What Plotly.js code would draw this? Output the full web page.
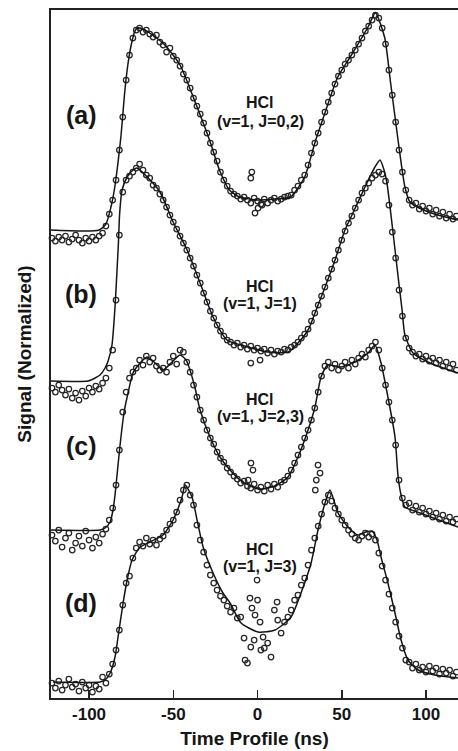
<!DOCTYPE html>
<html><head><meta charset="utf-8">
<script src="https://cdn.plot.ly/plotly-3.0.1.min.js"></script>
<style>html,body{margin:0;padding:0;background:#fff}#chart{width:458px;height:751px}</style>
</head><body><div id="chart"></div>
<script>
// Sampling times (ns) of the measured profiles
const timeNs = [-122,-120,-118,-116,-114,-112,-110,-108,-106,-104,-102,-100,-98,-96,-94,-92,-90,-88,-86,-84,-82,-80,-78,-76,-74,-72,-70,-68,-66,-64,-62,-60,-58,-56,-54,-52,-50,-48,-46,-44,-42,-40,-38,-36,-34,-32,-30,-28,-26,-24,-22,-20,-18,-16,-14,-12,-10,-8,-6,-4,-2,0,2,4,6,8,10,12,14,16,18,20,22,24,26,28,30,32,34,36,38,40,42,44,46,48,50,52,54,56,58,60,62,64,66,68,70,72,74,76,78,80,82,84,86,88,90,92,94,96,98,100,102,104,106,108,110,112,114,116,118];

// Measured signals (vertically offset, arbitrary units)
const signalA = [460,457,461,458,462,456,459,463,458,455,460,457,461,458,462,465,472,484,498,518,548,581,618,643,660,668,670,666,668,664,661,663,656,653,646,650,642,638,632,624,618,610,600,592,584,575,565,555,546,537,526,518,512,507,504,502,499,501,498,495,500,497,494,499,495,498,500,497,499,501,502,503,508,512,518,523,533,545,555,565,576,586,596,605,614,622,628,634,638,643,648,654,660,667,672,678,683,680,670,654,628,603,576,548,526,508,498,493,495,489,492,487,490,484,488,482,486,480,484,479,482];
const signalB = [310,306,313,308,303,309,300,305,298,307,302,310,306,312,309,315,320,330,348,398,463,506,518,522,526,530,534,528,523,520,513,510,504,498,491,483,476,469,462,455,448,440,432,423,415,405,396,387,380,373,367,362,358,356,353,355,351,353,349,352,348,350,347,349,345,348,344,347,346,349,348,351,353,356,360,364,369,377,385,393,402,411,420,429,438,448,458,467,475,482,490,498,505,510,515,520,523,526,524,517,493,466,440,408,382,360,350,346,342,344,339,342,337,340,335,338,332,336,330,334,328];
const signalC = [163,157,168,151,160,165,148,155,162,152,167,158,150,161,155,164,169,178,190,213,248,286,306,320,326,330,338,333,342,336,340,332,328,330,326,336,342,334,348,346,336,326,313,301,288,278,268,260,254,246,240,236,230,226,222,219,215,217,212,210,214,208,211,207,213,209,214,211,216,218,222,228,235,243,251,260,268,278,290,306,322,332,336,330,334,328,332,336,330,338,334,340,344,341,348,352,356,348,330,313,296,278,253,218,200,193,195,188,192,186,190,184,187,181,185,179,183,177,181,176,179];
const signalD = [15,10,17,8,13,19,11,14,7,16,10,13,6,12,9,21,15,24,34,48,68,93,115,122,140,150,156,152,160,154,158,153,159,162,168,174,178,186,198,208,213,203,193,173,158,146,133,123,115,108,102,98,92,86,90,80,81,60,35,51,58,98,48,50,55,41,88,78,65,76,81,88,98,103,113,120,133,148,160,172,184,196,203,197,190,184,178,173,168,164,160,158,162,165,161,164,158,145,132,118,104,90,76,62,50,38,36,30,34,28,31,26,32,27,30,24,29,25,28,22,26];

// Additional (repeated / outlying) measured points
const extraTimeA = [-4.0,-3.4,-1.5,0.3,2.7];
const extraSignalA = [520,526,485,490,493];
const extraTimeB = [-4.0,1.5];
const extraSignalB = [335,338];
const extraTimeC = [-5.6,-3.9,-2.7];
const extraSignalC = [218,235,228];
const extraTimeD = [-7.4,-4.5,-3.3,-1.5,-0.3,1.5,3.3,11.6,34.3,34.9,35.9,37.1];
const extraSignalD = [38,100,90,83,118,76,61,96,208,218,233,225];

// Fitted (model) curves
const fitTimeA = [-123,-94,-90,-87,-85,-83,-81,-79,-77,-75,-73,-71.5,-68,-64,-55,-46,-37.5,-28.5,-22.6,-16.7,-10.7,0,10,19.6,28,34,40,47.6,55,65.6,70,75.4,79,83.4,87.5,90.5,96,105,119];
const fitA = [468,468,474,491,508,533,563,603,633,653,666,670,669,665,653,633,598,558,528,508,501,498,499,501,521,555,585,621,641,671,685,661,615,558,511,496,490,484,478];
const fitTimeB = [-122.6,-100.6,-96.4,-93.5,-90.5,-88.7,-86.4,-84.6,-83.4,-82.5,-81.9,-80.4,-77.4,-73.9,-71.5,-63.8,-57.9,-50.1,-41.8,-34.1,-26.4,-18.1,-5.6,6.2,18.1,24,30,34.1,40.1,46,51.9,55.5,63.8,69.7,72.7,75.1,76.9,80.4,83.4,85.8,87.5,92.3,102.4,119];
const fitB = [317,317,320,323,330,337,353,391,428,458,483,508,521,528,530,518,506,476,448,415,381,358,351,346,346,355,368,385,411,438,468,481,511,531,538,528,514,466,422,388,363,345,335,325];
const fitTimeC = [-122.6,-93.5,-90.5,-87.5,-85.8,-84.6,-83.4,-81.6,-79.2,-77.4,-73.9,-69.7,-65.6,-60.8,-56.1,-50.7,-46,-42.4,-40.1,-37.1,-34.1,-28.2,-22.3,-16.3,-10.4,0.3,10.4,18.1,24,30,34.1,37.7,41.8,49.6,57.9,65.6,69.7,73.3,77.4,81.6,83.4,85.2,87.5,96.4,112.5,119];
const fitC = [168,168,170,176,188,203,223,253,286,301,325,335,341,335,328,336,343,338,328,310,288,261,241,228,218,209,212,221,241,268,291,321,333,331,336,345,353,335,301,261,222,203,191,185,175,171];
const fitTimeD = [-121.4,-93.5,-90.5,-87.5,-84.6,-82.8,-79.8,-77.4,-74.5,-69.7,-63.8,-56.1,-50.1,-44.8,-43,-38.9,-35.9,-32.3,-26.4,-20.5,-16.3,-9.8,0.3,10.4,19.9,25.8,31.8,35.9,40.1,43,47.8,53.7,59.6,64.4,67.9,70.9,73.3,77.4,81.6,85.2,89.3,95.3,105.3,119];
const fitD = [16,16,18,25,41,61,95,118,138,151,156,163,178,201,213,201,178,151,125,105,95,75,66,68,81,105,135,168,195,208,185,171,163,166,167,158,141,115,85,58,38,28,23,20];

// Text
const panelLabels = ['(a)','(b)','(c)','(d)'];
const speciesLabel = 'HCl';
const stateLabels = ['(v=1, J=0,2)','(v=1, J=1)','(v=1, J=2,3)','(v=1, J=3)'];
const xTickValues = [-100,-50,0,50,100];
const xTickLabels = ['-100','-50','0','50','100'];

const F = 'Liberation Sans, Arial, Helvetica, sans-serif';
const INK = '#151515';

const series = [
  {t: timeNs, y: signalA, xt: extraTimeA, xy: extraSignalA, ft: fitTimeA, fy: fitA},
  {t: timeNs, y: signalB, xt: extraTimeB, xy: extraSignalB, ft: fitTimeB, fy: fitB},
  {t: timeNs, y: signalC, xt: extraTimeC, xy: extraSignalC, ft: fitTimeC, fy: fitC},
  {t: timeNs, y: signalD, xt: extraTimeD, xy: extraSignalD, ft: fitTimeD, fy: fitD}
];

const traces = [];
series.forEach(s => {
  traces.push({type:'scatter', mode:'markers', x: s.t.concat(s.xt), y: s.y.concat(s.xy),
    marker:{symbol:'circle-open', size:5.5, color:'#262626', line:{width:1.25, color:'#262626'}},
    hoverinfo:'skip', showlegend:false, cliponaxis:false});
  traces.push({type:'scatter', mode:'lines', x: s.ft, y: s.fy,
    line:{color:INK, width:1.5, shape:'spline', smoothing:0.6},
    hoverinfo:'skip', showlegend:false});
});

const panelY = [583, 404, 252, 95];
const speciesY = [596, 412, 299, 149];
const stateY = [577, 394.5, 281.5, 132];
const annotations = [];
for (let i = 0; i < 4; i++) {
  annotations.push({x:-104.7, y:panelY[i], xref:'x', yref:'y', text:panelLabels[i], showarrow:false,
    xanchor:'center', yanchor:'middle', font:{family:F, size:25, weight:'bold', color:INK}});
  annotations.push({x:1.5, y:speciesY[i], xref:'x', yref:'y', text:speciesLabel, showarrow:false,
    xanchor:'center', yanchor:'middle', font:{family:F, size:16, weight:'bold', color:INK}});
  annotations.push({x:1.5, y:stateY[i], xref:'x', yref:'y', text:stateLabels[i], showarrow:false,
    xanchor:'center', yanchor:'middle', font:{family:F, size:16, weight:'bold', color:INK}});
}

const layout = {
  width:458, height:751,
  margin:{l:51, r:0, t:10, b:53},
  paper_bgcolor:'#ffffff', plot_bgcolor:'#ffffff',
  showlegend:false,
  font:{family:F, color:INK},
  xaxis:{range:[-122.6,119], tickmode:'array', tickvals:xTickValues, ticktext:xTickLabels,
    ticks:'inside', ticklen:8, tickwidth:1.5, tickcolor:'#222',
    showline:true, linecolor:'#222', linewidth:1.8, mirror:true,
    showgrid:false, zeroline:false,
    tickfont:{family:F, size:17, weight:'bold', color:INK},
    title:{text:'Time Profile (ns)', font:{family:F, size:19, weight:'bold', color:INK}, standoff:8}},
  yaxis:{range:[0,688], showticklabels:false, ticks:'',
    showline:true, linecolor:'#222', linewidth:1.8, mirror:false,
    showgrid:false, zeroline:false,
    title:{text:'Signal (Normalized)', font:{family:F, size:19, weight:'bold', color:INK}, standoff:12}},
  annotations: annotations
};

Plotly.newPlot('chart', traces, layout, {displayModeBar:false, staticPlot:true});
</script>
</body></html>
